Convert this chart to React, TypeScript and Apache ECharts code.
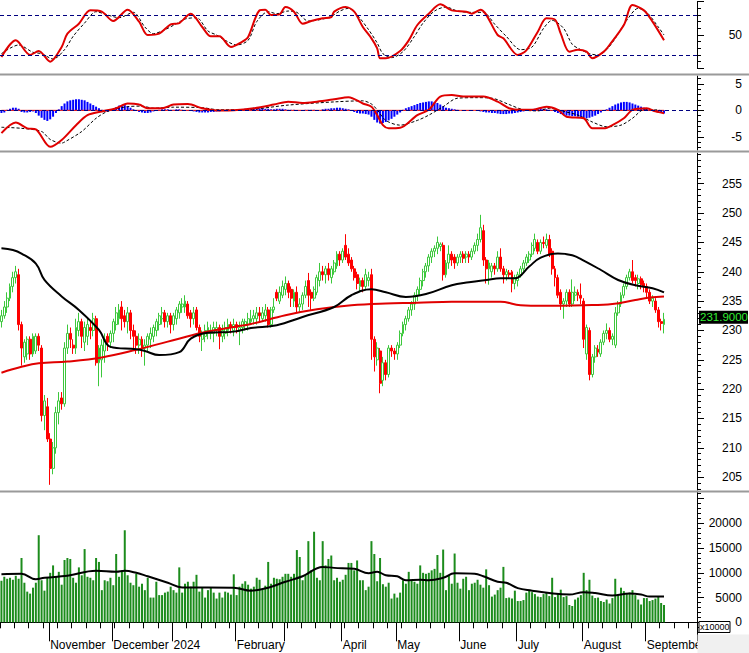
import React, { useEffect, useRef } from 'react';
import * as echarts from 'echarts';

const SLOTS = 243;
const FONT = 'Liberation Sans, Arial, sans-serif';

// [open, close, low, high]
const candles: number[][] = [
  [231.5,232.5,230.5,233.5],[232.5,234,232,235],[234,235.5,233,236.5],[235.5,237.5,235,238],[237.5,239,236.5,240],
  [239,240,238,241],[239.5,231,230,240.5],[231,227,224,231.5],[225.5,228,224.5,228.5],[226,228.5,225,229],
  [228.5,226,225,229],[226,229,225.5,229.5],[226.5,229,226,229.5],[229,227.5,226.5,229.5],[227,215.5,214.5,227.5],
  [215.5,218,213,219],[217,211.5,211,218.5],[211.5,206.5,203.7,212.5],[206.5,210,205.5,211],[210,216,209,217],
  [216,218,214,219.5],[218.5,217.5,216.5,219.5],[217.5,227,217,228],[227,229.5,226,231],[229.5,228.5,227,230.5],
  [227.5,227,226,228.5],[227,230.5,226,232],[230,231.5,229,233],[231.5,229,227,232],[228,230.5,226.5,231.5],
  [229,231,227.5,232],[230.5,230,228.5,231.5],[230,232,229,233],[232,224.5,224,232.5],[224.5,227,220.5,227.5],
  [225,227.5,222,228.5],[226.5,228.5,224.5,229.5],[229,228,226.5,229.5],[228,229.5,227,230],[229.5,231.5,228,232],
  [231,233,230,234],[232,233.5,231,234.5],[234,232,230,235],[232.5,231.5,230.5,233.5],[231.5,233,229.5,234],
  [233,230,228.5,233.5],[230,229,227,231],[229,227.5,226,230],[227.5,228.5,226,229.5],[228.5,227,225.5,229],
  [227,227.5,224,228.5],[227.5,229,226.5,229.5],[228.5,229.5,227,230.5],[229,230.5,228,231],[230,231.5,229,232],
  [231,232.5,230,233],[232,233,231,234],[233,231.5,230.5,233.5],[231.5,232.5,230.5,233],[232.5,231,229.5,233],
  [231,232.5,230,233],[232,233.5,231,234],[233,234.5,232,235],[234,234.5,233,235.5],[234,235,233,236],
  [234.5,232.5,232,235],[233,232,230.5,233.5],[232,233,231,234],[233.5,230.5,230,234],[230.5,229,228,231],
  [228.5,229.5,226.5,230],[229,230,228,231],[229.5,230.5,228.5,231.5],[229.5,230,228.5,231],[229.5,230.5,228,231.5],
  [230,230.5,229,231.5],[230.5,229,226.8,231],[229,230,228,231],[229.5,230.5,228.5,231.5],[230,231,229,232],
  [231,230.5,229.5,231.5],[230,231,229,232],[231,230.5,229.5,231.5],[230,230.5,227.5,231.5],[230.5,231.5,229.5,232],
  [231,231.5,230,232],[231,232,230,233],[231.5,232,231,233.5],[232,232.5,231,233.5],[232,233,231,234],
  [233,232.5,231.5,234],[232,233,231.5,234],[232.5,233.5,231.5,234.5],[233.5,231,230.5,234],[231,233.5,230.5,234],
  [233.5,234,233,235.5],[236.5,235.5,235,237],[235,236.5,234.5,237.5],[236,237.5,235.5,238.5],[237,238,236,239.2],
  [238,236.5,235.5,238.5],[237,235.5,234,237.5],[235,236.5,234,237],[236.5,234,233,237.5],[234,234.5,233,235.5],
  [234.5,236,233.5,236.5],[236,237.5,235.5,238.5],[238.5,236,234,239.8],[236.5,235.5,233.5,237],[235.5,237,235,237.5],
  [236.5,239,236,239.5],[238.5,240,237.5,241.5],[240,239.5,238.5,241],[239.5,240.5,238,241],[240.5,239.5,238.5,241.5],
  [239,240.5,238,241],[240,241.5,239.5,242],[241,243,240.5,243.5],[243,242,241,243.5],[242,243.5,241.5,244],
  [244.5,242.5,242,246.4],[243,241.5,241,244],[242,240.5,240,242.5],[240.5,239,238.5,241],[239.5,238,237,240],
  [237.5,238.5,236.5,239],[238.5,237.5,236.5,239],[237.5,239.5,237,240.5],[238.5,239,237.5,240],[239.5,228.5,225,240.5],
  [228.5,225.5,223,229],[225,227,224,228],[226.5,221,219.3,227],[221.5,224.5,220.5,225.5],[224.5,222.5,221.5,225],
  [222.5,227,222,227.5],[227,226.5,225.5,227.5],[226.5,226,225,227],[226,227.5,225,228],[227.5,229.5,227,230],
  [229.5,231,229,231.5],[231,232,230,232.5],[232,233.5,231.5,234],[233.5,234.5,232.5,235],[234.5,236,233.5,236.5],
  [236,237,235,237.5],[237,238.5,236,239],[238.5,240,237.5,240.5],[240,241,239,241.5],[241,242.5,240,243],
  [242.5,243.5,241.5,244],[243.5,244,242.5,244.5],[244,245,243,246],[244.3,244.7,243.5,245],[244.5,239.5,238.5,245],
  [239.5,241.5,239,242],[241.5,243,240.5,244.5],[243,242,241,243.5],[242.5,241.5,240.5,243],[241.5,242.5,241,243],
  [242.5,243,241.5,243.5],[243,242.3,241.5,243.5],[242.5,243,241.5,243.5],[243,242.5,241.5,243.5],[242.5,243.5,242,244],
  [243.5,244.5,243,245],[244.5,245.5,243.5,246.5],[245.5,247.5,245,249.7],[247,242,241,248],[242,240.5,238,242.5],
  [240.5,241.5,237.8,242],[240,241,239,241.5],[241,240.5,239.5,241.5],[240.5,242.5,240,243.5],[242.5,240.5,240,244],
  [240.5,239.5,238,241],[239.5,240,238.5,240.5],[239.8,239.5,239,240.3],[240,238,236.5,240.3],[238,239,237,239.5],
  [238.5,239.5,237.5,240],[239.5,240.5,239,241],[240.5,241.5,240,242],[241.5,242.5,241,243],[242,243,241.5,243.5],
  [243,244.5,242.5,245],[244,245.5,243.5,246.5],[245,243.5,243,245.5],[243.5,245,243,245.5],[245,244.8,244,246],
  [244.5,245.5,244,246.5],[245.5,243,242.5,246.3],[243.5,240.5,239.5,244],[240.5,239,237.5,241],[239,236,235.5,239.5],
  [236.5,234.5,233.5,237],[234.5,235,232,235.5],[235,236.5,234,237],[236.5,234.5,234,237],[234.5,236.5,234,238.7],
  [236,236.5,235,237.5],[236.5,236,235,237],[236,235.5,234.5,238],[235,228.5,227,235.5],[226,230.5,225,231],
  [230,222.5,221.5,230.5],[222.5,225.5,222,226],[225.5,227,224.5,227.5],[226.8,226.3,225.5,227.5],[226,228,225.5,228.5],
  [228,229.5,227.5,230],[229.5,230,228.5,231.2],[230,228.5,228,230.5],[228.5,229,227.5,229.5],[227.5,233,227,234],
  [233,234.5,232.5,235],[234.5,236,234,236.5],[236,237.5,235.5,238],[237.5,239,237,239.5],[239,240,238.5,240.5],
  [240,238.5,238,242],[239,238.5,237.5,239.5],[238,238.8,237,239.5],[238.8,237.8,237,239.2],[238,237.5,236.5,238.5],
  [237.5,236.5,235.5,238],[236.5,235,234.5,237],[235,235.5,234,236],[235,233.5,233,235.5],[233.5,231.5,230.5,234],
  [231.5,231.2,230,232],[231,231.9,229.5,233]
];

const volumes = [
  8400,9200,8800,9000,8600,9400,8800,13000,8000,6200,
  5800,7000,8000,17600,8500,6400,9000,10000,11500,9200,
  10200,7600,12600,13000,12800,9000,8000,11100,9500,14800,
  9200,9000,8500,13000,12200,6500,8500,8300,9000,7500,
  13800,9200,10500,18600,9500,8000,7500,9800,7200,7800,
  6500,9000,5000,5000,8200,5500,5500,6000,6200,7200,
  6500,6000,11100,6000,7800,8200,7200,8200,9600,6200,
  7000,5000,6500,7000,6000,4800,6000,5000,6200,6000,
  5600,9700,5500,7200,7800,8300,7600,6800,7200,9000,
  8600,6700,7400,12200,7800,9000,8800,8700,9200,9800,
  9800,9200,9800,14600,13200,8500,9500,16400,10500,18300,
  9000,8500,16400,11500,12800,13500,8500,9000,8200,8600,
  9600,12000,12000,10500,12500,8500,8500,6500,7200,16400,
  13800,8300,13000,7700,7200,8000,4800,5800,5000,6000,
  8500,7800,10200,8500,8200,7800,11500,10000,9800,10000,
  10500,10800,13600,10000,14700,6500,9500,7800,13900,8000,
  6800,8800,9200,6500,7800,8000,8600,7600,7000,10700,
  7500,5200,5600,6500,7000,11200,4900,5000,4800,6400,
  4300,4300,4500,6000,6400,6100,5700,5200,5100,5700,
  6000,5300,9000,5100,5800,6600,5100,5300,3500,3300,
  4600,5000,5500,10000,6500,8600,5400,4900,5000,4300,
  4100,4600,3800,4900,8800,5500,7000,6300,5800,6000,
  6500,5500,4600,3600,4900,4900,4300,4500,4800,5200,
  3900,3500
];

const macdHist = [
  -0.5,-0.4,0.1,0.3,0.5,0.5,0.3,-0.3,-0.4,-0.4,
  -0.3,-0.2,-0.5,-1.0,-1.4,-1.8,-2.0,-1.7,-1.2,-0.5,
  0.2,0.8,1.3,1.7,1.9,2.0,2.1,2.1,2.0,1.9,
  1.6,1.3,1.0,0.7,0.4,0.1,-0.2,-0.3,-0.1,0.2,
  0.6,0.9,1.0,1.0,0.8,0.5,0.2,-0.1,-0.3,-0.4,
  -0.5,-0.5,-0.4,-0.2,-0.1,0.1,0.2,0.2,0.2,0.1,
  0.1,0.2,0.2,0.1,0.0,-0.1,-0.1,-0.2,-0.3,-0.4,
  -0.4,-0.4,-0.4,-0.3,-0.3,-0.2,-0.2,-0.1,-0.1,0.0,
  0.1,0.1,0.1,0.2,0.2,0.3,0.3,0.4,0.5,0.5,
  0.4,0.4,0.3,0.3,0.2,0.2,0.3,0.3,0.3,0.2,
  0.1,0.1,0.1,0.0,-0.1,0.0,0.1,0.1,0.1,0.1,
  0.0,0.0,0.2,0.3,0.3,0.4,0.4,0.5,0.5,0.4,
  0.3,0.2,0.0,-0.3,-0.5,-0.6,-0.6,-0.7,-0.8,-1.2,
  -1.8,-2.3,-2.5,-2.4,-2.2,-1.9,-1.6,-1.2,-0.8,-0.4,
  0.1,0.4,0.6,0.8,1.0,1.2,1.4,1.5,1.6,1.7,
  1.7,1.6,1.4,1.1,0.8,0.5,0.4,0.3,0.2,0.1,
  0.0,0.0,-0.1,-0.1,0.0,0.0,-0.1,-0.2,-0.3,-0.4,
  -0.4,-0.5,-0.5,-0.6,-0.7,-0.7,-0.7,-0.6,-0.6,-0.5,
  -0.4,-0.3,-0.2,-0.1,0.1,0.2,0.3,0.4,0.4,0.3,
  0.2,0.1,-0.1,-0.3,-0.5,-0.7,-0.9,-1.0,-1.0,-1.1,
  -1.1,-1.2,-1.3,-1.4,-1.5,-1.4,-1.2,-1.0,-0.7,-0.4,
  -0.1,0.2,0.5,0.8,1.1,1.3,1.5,1.6,1.6,1.5,
  1.3,1.1,0.9,0.7,0.5,0.3,0.1,-0.1,-0.3,-0.4,
  -0.5,-0.6
];

// [bar index, value]
const maBlack = [
  [0,244.0],[4,243.7],[7,243.1],[12,241.4],[15,238.6],[21,235.8],[27,233.5],[34,230.1],[38,227.2],[47,226.8],
  [50,226.5],[55,225.8],[62,226.3],[66,228.6],[72,229.6],[81,229.8],[87,230.4],[96,230.9],[105,232.3],[116,234.0],
  [122,236.0],[129,237.0],[134,236.5],[141,235.7],[148,236.2],[157,237.7],[163,238.2],[169,238.6],[174,238.9],
  [179,238.9],[184,240.9],[188,242.4],[194,243.1],[199,242.8],[203,241.9],[209,240.3],[215,238.6],[221,237.7],
  [227,237.2],[231,236.5]
];
const maRed = [
  [0,222.8],[7,223.8],[13,224.4],[23,224.7],[35,225.4],[47,226.7],[58,228.1],[70,229.6],[81,230.6],[87,231.1],
  [99,232.6],[110,233.6],[122,234.3],[134,234.6],[145,234.7],[157,234.9],[169,234.9],[174,234.9],[181,234.3],
  [189,234.2],[203,234.3],[213,234.5],[221,235.2],[226,235.6],[231,235.8]
];
const volMA = [
  [0,9700],[7,9800],[12,8700],[15,9000],[23,9400],[33,10400],[40,10200],[43,10400],[47,10000],[51,9300],
  [58,8000],[63,7050],[81,7000],[87,6400],[93,7000],[99,8200],[105,9300],[112,11200],[116,11000],[123,10800],
  [128,9900],[131,10200],[134,9500],[138,9300],[141,8500],[146,8600],[149,8500],[154,9000],[158,9900],[165,9800],
  [168,9300],[173,8200],[176,8000],[180,6900],[185,6400],[191,5900],[198,5600],[203,6100],[207,5900],[213,5400],
  [219,5800],[223,5600],[226,5200],[231,5200]
];
const stochK = [
  [0,17],[5,42],[10,20],[13,26],[17,10],[21,32],[23,52],[27,67],[31,87],[35,85],[39,71],[44,88],[48,70],[51,50],
  [55,52],[59,66],[62,68],[66,82],[70,62],[73,48],[76,48],[80,32],[84,40],[86,47],[90,87],[92,88],[94,80],[97,81],
  [99,92],[102,85],[105,67],[108,71],[112,75],[115,77],[116,85],[120,92],[123,85],[126,62],[129,45],[131,30],
  [132,15],[134,15],[139,26],[142,42],[145,65],[149,82],[153,96],[157,87],[162,85],[164,82],[167,88],[173,50],
  [175,45],[180,20],[183,27],[187,55],[190,75],[193,73],[195,52],[198,25],[201,28],[204,25],[206,15],[210,25],
  [212,35],[217,65],[220,95],[224,87],[227,70],[231,42]
];
const stochD = [
  [0,22],[6,35],[11,24],[14,22],[18,14],[22,28],[25,48],[29,68],[33,85],[37,80],[41,76],[46,84],[50,62],[53,52],
  [57,58],[61,67],[64,74],[68,76],[72,56],[75,50],[78,42],[82,35],[86,42],[89,70],[93,85],[96,82],[100,86],
  [103,84],[107,71],[111,73],[115,78],[118,86],[121,90],[124,80],[128,58],[131,38],[133,22],[136,16],[140,25],
  [144,48],[147,68],[151,86],[155,92],[159,86],[164,84],[168,84],[172,66],[176,48],[181,28],[185,32],[189,60],
  [192,72],[196,60],[199,36],[202,28],[205,22],[208,20],[211,28],[214,45],[218,72],[222,90],[225,84],[229,62],
  [231,50]
];
const macdLine = [
  [0,-4.3],[5,-2.3],[9,-3.4],[12,-3.6],[17,-6.9],[21,-5.6],[26,-2.8],[30,-0.9],[35,-0.2],[40,0.4],[44,1.3],
  [48,1.1],[51,0.4],[56,0.4],[60,1.1],[65,1.2],[70,0.4],[76,-0.05],[81,0],[88,0.4],[95,1.1],[100,1.65],[105,1.4],
  [110,1.65],[116,2.1],[121,2.5],[126,1.3],[129,0.7],[131,-0.9],[133,-2.8],[135,-3.4],[139,-3.3],[145,-0.9],
  [149,0.1],[153,2.6],[157,2.9],[161,2.6],[168,2.6],[173,1.65],[177,0.4],[181,0.1],[185,0.1],[190,0.7],[194,0.1],
  [197,-1.2],[203,-1.5],[206,-3.4],[210,-3.4],[213,-2.8],[217,-1.5],[220,0.1],[225,0.4],[228,-0.2],[231,-0.55]
];
const macdSignal = [
  [0,-3.2],[7,-3.4],[14,-4.0],[17,-5.5],[21,-6.2],[22,-6.0],[28,-4.0],[33,-1.5],[37,-0.2],[44,0.7],[49,0.8],
  [53,0.4],[60,0.6],[70,0.5],[76,0.1],[87,0.2],[100,1.0],[116,1.6],[126,1.8],[129,1.2],[131,0.1],[134,-1.9],
  [139,-2.8],[145,-1.9],[149,-0.9],[154,0.7],[159,2.3],[166,2.4],[171,2.3],[177,1.1],[182,0.1],[187,-0.1],
  [191,0.4],[196,-0.2],[201,-0.9],[206,-2.2],[211,-3.1],[216,-2.8],[220,-1.5],[224,0.1],[228,0.1],[231,-0.2]
];

const monthStarts = [17, 39, 60, 82, 99, 119, 138, 160, 180, 203, 225];
const monthNames = ['November', 'December', '2024', 'February', '', 'April', 'May', 'June', 'July', 'August', 'September'];

const stochLabels = [50];
const stochMajor = [0, 50, 100];
const macdLabels = [-5, 0, 5];
const priceLabels = [205, 210, 215, 220, 225, 230, 235, 240, 245, 250, 255];
const volLabels = [0, 5000, 10000, 15000, 20000];
const volMajor = [0, 5000, 10000, 15000, 20000, 25000];

const range = (a: number, b: number, s: number) => {
  const out: number[] = [];
  for (let v = a; v <= b + 1e-9; v += s) out.push(Math.round(v * 100) / 100);
  return out;
};

function yPair(gridIndex: number, min: number, max: number, labels: number[], majors: number[], minors: number[]) {
  return [
    {
      type: 'value', gridIndex, position: 'right', offset: 0, min, max,
      splitLine: { show: false },
      axisLine: { show: true, lineStyle: { color: '#000', width: 1 } },
      axisTick: { show: true, length: 7, customValues: majors, lineStyle: { color: '#000' } },
      axisLabel: {
        show: true, customValues: labels, align: 'right', margin: 45, color: '#000', fontSize: 12, fontFamily: FONT,
        formatter: (v: number) => String(v),
      },
    },
    {
      type: 'value', gridIndex, position: 'right', offset: 0, min, max,
      splitLine: { show: false },
      axisLine: { show: false },
      axisTick: { show: true, length: 4, customValues: minors, lineStyle: { color: '#000' } },
      axisLabel: { show: false, customValues: minors },
    },
  ];
}

export default function App() {
  const ref = useRef<HTMLDivElement>(null);
  useEffect(() => {
    if (!ref.current) return;
    const chart = echarts.init(ref.current, undefined, { renderer: 'svg' });
    const cats = Array.from({ length: SLOTS }, (_, i) => String(i));
    const hiddenX = (g: number) => ({ type: 'category', gridIndex: g, data: cats, show: false });
    const grids = [
      { left: 0, right: 52, top: 1.7, height: 66.6 },
      { left: 0, right: 52, top: 76, height: 74 },
      { left: 0, right: 52, top: 153.2, height: 336.9 },
      { left: 0, right: 52, top: 492, height: 142 },
    ];
    const lastClose = candles[candles.length - 1][1];

    const option: any = {
      animation: false,
      backgroundColor: '#ffffff',
      textStyle: { fontFamily: FONT },
      grid: grids,
      xAxis: [
        hiddenX(0), hiddenX(1), hiddenX(2),
        {
          type: 'category', gridIndex: 3, data: cats,
          axisLine: { show: true, lineStyle: { color: '#000', width: 1 } },
          axisTick: { show: true, length: 6, interval: (i: number) => i % 5 === 0, lineStyle: { color: '#000' } },
          axisLabel: { show: false },
        },
        {
          type: 'category', gridIndex: 3, data: cats, position: 'bottom',
          axisLine: { show: false },
          axisTick: { show: true, length: 19, interval: (i: number) => monthStarts.includes(i), lineStyle: { color: '#000' } },
          axisLabel: {
            show: true, interval: (i: number) => monthStarts.includes(i),
            formatter: (_v: string, i: number) => { const k = monthStarts.indexOf(i); return k >= 0 ? monthNames[k] : ''; },
            align: 'left', margin: 5, color: '#000', fontSize: 12, fontFamily: FONT,
          },
        },
      ],
      yAxis: [
        ...yPair(0, 0, 100, stochLabels, stochMajor, range(10, 90, 10)),
        ...yPair(1, -7.5, 6.5, macdLabels, macdLabels, range(-7, 6, 1)),
        ...yPair(2, 202.8, 260.2, priceLabels, priceLabels, range(203, 260, 1)),
        ...yPair(3, -2360, 26330, volLabels, volMajor, range(-2000, 26000, 1000)),
      ],
      series: [
        {
          type: 'line', xAxisIndex: 0, yAxisIndex: 0, data: stochD, symbol: 'none', smooth: 0.3,
          lineStyle: { color: '#000', width: 1, type: [3, 2] },
          markLine: {
            silent: true, symbol: 'none', label: { show: false },
            lineStyle: { color: '#000080', width: 1, type: [4, 3] },
            data: [{ yAxis: 80 }, { yAxis: 20 }],
          },
        },
        { type: 'line', xAxisIndex: 0, yAxisIndex: 0, data: stochK, symbol: 'none', smooth: 0.3, lineStyle: { color: '#e00000', width: 2 } },
        {
          type: 'bar', xAxisIndex: 1, yAxisIndex: 2, data: macdHist, barWidth: 2, itemStyle: { color: '#0000ff' },
          markLine: {
            silent: true, symbol: 'none', label: { show: false },
            lineStyle: { color: '#000080', width: 1, type: [4, 3] }, data: [{ yAxis: 0 }],
          },
        },
        { type: 'line', xAxisIndex: 1, yAxisIndex: 2, data: macdHist.map(() => 0), symbol: 'none', lineStyle: { color: '#e00000', width: 1 } },
        { type: 'line', xAxisIndex: 1, yAxisIndex: 2, data: macdSignal, symbol: 'none', smooth: 0.3, lineStyle: { color: '#000', width: 1, type: [3, 2] } },
        { type: 'line', xAxisIndex: 1, yAxisIndex: 2, data: macdLine, symbol: 'none', smooth: 0.3, lineStyle: { color: '#e00000', width: 2 } },
        {
          type: 'candlestick', xAxisIndex: 2, yAxisIndex: 4, data: candles, barWidth: 2.4,
          itemStyle: { color: '#ffffff', color0: '#ff0000', borderColor: '#3cc83c', borderColor0: '#ff0000', borderWidth: 1 },
        },
        { type: 'line', xAxisIndex: 2, yAxisIndex: 4, data: maRed, symbol: 'none', smooth: 0.4, lineStyle: { color: '#e00000', width: 2 } },
        { type: 'line', xAxisIndex: 2, yAxisIndex: 4, data: maBlack, symbol: 'none', smooth: 0.4, lineStyle: { color: '#000', width: 2 } },
        { type: 'bar', xAxisIndex: 3, yAxisIndex: 6, data: volumes, barWidth: 2, itemStyle: { color: '#1c8c1c' } },
        { type: 'line', xAxisIndex: 3, yAxisIndex: 6, data: volMA, symbol: 'none', smooth: 0.4, lineStyle: { color: '#000', width: 2 } },
      ],
    };
    chart.setOption(option);

    const yPix = chart.convertToPixel({ yAxisIndex: 4 }, lastClose) as number;
    chart.setOption({
      graphic: [
        { type: 'rect', z: 100, shape: { x: 0, y: 73.5, width: 749, height: 2 }, style: { fill: '#9a9a9a' } },
        { type: 'rect', z: 100, shape: { x: 0, y: 150.5, width: 749, height: 2 }, style: { fill: '#9a9a9a' } },
        { type: 'rect', z: 100, shape: { x: 0, y: 490.5, width: 749, height: 2 }, style: { fill: '#9a9a9a' } },
        { type: 'rect', z: 100, shape: { x: 697.5, y: 634.5, width: 52, height: 19 }, style: { fill: '#f0f0f0' } },
        { type: 'rect', z: 100, shape: { x: 699, y: 621.5, width: 31, height: 11 }, style: { fill: '#ffffff', stroke: '#000', lineWidth: 1 } },
        { type: 'text', z: 101, x: 700, y: 622.5, style: { text: 'x10000', fontSize: 9, fill: '#000', fontFamily: FONT } },
        { type: 'rect', z: 100, shape: { x: 699, y: yPix - 8.5, width: 49, height: 13 }, style: { fill: '#000000' } },
        {
          type: 'text', z: 101, x: 700, y: yPix - 2, style: {
            text: lastClose.toFixed(4), fontSize: 11.5, fill: '#33ee33', fontFamily: FONT, verticalAlign: 'middle',
          },
        },
      ],
    });
    return () => chart.dispose();
  }, []);
  return <div ref={ref} style={{ position: 'absolute', left: 0, top: 0, width: 749, height: 653, background: '#fff' }} />;
}
